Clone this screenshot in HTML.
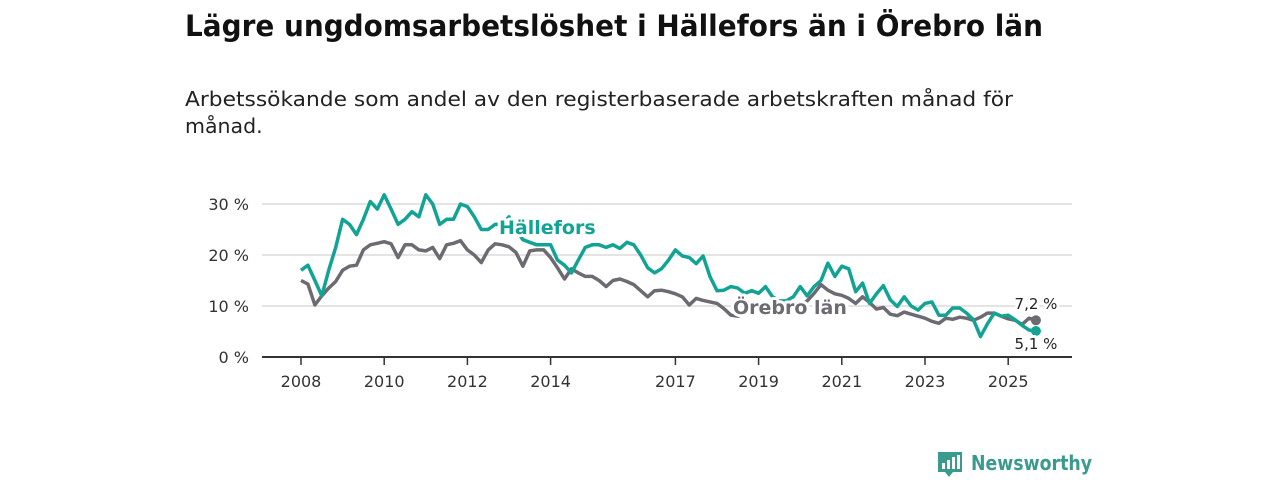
<!DOCTYPE html>
<html><head><meta charset="utf-8"><style>
html,body{margin:0;padding:0;background:#fff;}
svg{display:block;font-family:"DejaVu Sans","Liberation Sans",sans-serif;}
.lab{paint-order:stroke;stroke:#fff;stroke-width:6px;stroke-linejoin:round;}
</style></head><body>
<svg id="chart" width="1280" height="480" viewBox="0 0 1280 480" xmlns="http://www.w3.org/2000/svg">
<text x="185" y="36" font-size="29" font-weight="bold" fill="#111" textLength="858" lengthAdjust="spacingAndGlyphs">Lägre ungdomsarbetslöshet i Hällefors än i Örebro län</text>
<text font-size="20.5" fill="#222"><tspan x="185" y="106" textLength="828" lengthAdjust="spacingAndGlyphs">Arbetssökande som andel av den registerbaserade arbetskraften månad för</tspan><tspan x="185" y="133">månad.</tspan></text>
<g id="grid"></g>
<g id="yticks"></g>
<g id="xticks"></g>
<g id="series"></g>
<g id="labels"></g>
<g>
<path d="M938 452 h24 v20 h-9 l-4 5 l-4 -5 h-7 z" fill="#3a9a8e"/>
<rect x="942" y="463" width="3" height="6" fill="#fff"/><rect x="947" y="460" width="3" height="9" fill="#fff"/><rect x="952" y="457" width="3" height="12" fill="#fff"/><rect x="957" y="455" width="3" height="14" fill="#fff"/>
<text x="971" y="470" font-size="20" font-weight="bold" fill="#3a9a8e" textLength="121" lengthAdjust="spacingAndGlyphs">Newsworthy</text>
</g>
</svg>
<script>
const yTicks = [0, 10, 20, 30];
const yTickLabels = ["0 %", "10 %", "20 %", "30 %"];
const xTicks = [2008, 2010, 2012, 2014, 2017, 2019, 2021, 2023, 2025];
const startYear = 2008;
const monthStep = 2;
const hallefors = [17,18,15,12,17,21.5, 27,26,24,27,30.5,29, 31.8,29,26,27,28.5,27.5, 31.8,30,26,27,27,30, 29.5,27.5,25,25,26,26, 27.5,25,23,22.5,22,22, 22,19,18,16.5,19,21.5, 22,22,21.5,22,21.3,22.5, 22,20,17.5,16.5,17.3,19,
 21,19.8,19.5,18.3,19.8,15.7, 13,13.1,13.8,13.5,12.5,13, 12.5,13.8,11.8,11,11,11.8, 13.8,12,13.8,15,18.4,15.8, 17.8,17.3,12.8,14.5,10.5,12.4, 14,11.2,9.9,11.8,10,9.2, 10.5,10.8,8.2,8.2,9.6,9.6, 8.6,7.3,4,6.5,8.6,8, 8.2,7.3,6.2,5.3,5.1];
const orebro = [15,14.3,10.2,12,13.5,14.8, 17,17.8,18,21,22,22.3, 22.6,22.2,19.5,22,22,21, 20.8,21.5,19.3,22,22.3,22.8, 21,20,18.5,21,22.2,22, 21.6,20.5,17.8,20.8,21,21, 19.5,17.5,15.3,17.3,16.5,15.8, 15.8,15,13.8,15,15.3,14.8, 14.2,13,11.8,13,13.1,12.8,
 12.4,11.8,10.2,11.5,11.1,10.8, 10.5,9.5,8.2,8,8.5,9, 9,9.5,9,9.5,10,10, 10,11,12.5,14.2,13.1,12.4, 12.1,11.5,10.5,11.8,10.7,9.4, 9.7,8.4,8.1,8.8,8.4,8.0, 7.6,7.0,6.6,7.6,7.4,7.8, 7.6,7.2,7.8,8.6,8.6,8.0, 7.5,7.2,6.4,7.6,7.2];

const NS="http://www.w3.org/2000/svg";
const X0=262, X1=1072;
function xScale(yr){return 301+(yr-2008)*41.6;}
function yScale(v){return 357-v*5.1;}
function xIdx(i){return xScale(startYear+i*monthStep/12);}
function mk(tag,attrs,parent){const e=document.createElementNS(NS,tag);for(const k in attrs)e.setAttribute(k,attrs[k]);parent.appendChild(e);return e;}

const grid=document.getElementById('grid'), yt=document.getElementById('yticks'), xt=document.getElementById('xticks');
yTicks.forEach((v,i)=>{
  if(v>0){const g=mk('line',{x1:X0,x2:X1,y1:yScale(v),y2:yScale(v),stroke:'#dcdcdc','stroke-width':1.5},grid);
  
  }
  const t=mk('text',{x:249,y:yScale(v)+6,'text-anchor':'end','font-size':16,fill:'#333'},yt);
  
  
  t.textContent=yTickLabels[i];
});
const ax=mk('line',{x1:X0,x2:X1,y1:357,y2:357,stroke:'#333','stroke-width':2},xt);


xTicks.forEach(yr=>{
  const x=xScale(yr);
  const tk=mk('line',{x1:x,x2:x,y1:357,y2:365,stroke:'#333','stroke-width':1.5},xt);
  
  
  const t=mk('text',{x:x,y:387,'text-anchor':'middle','font-size':16,fill:'#333'},xt);
  
  
  t.textContent=yr;
});
const ser=document.getElementById('series');
function line(data,color,name){
  const d=data.map((v,i)=>(i?'L':'M')+xIdx(i).toFixed(1)+' '+yScale(v).toFixed(1)).join(' ');
  const p=mk('path',{d:d,fill:'none',stroke:color,'stroke-width':3.5,'stroke-linejoin':'round'},ser);
  
  
  const n=data.length-1;
  const c=mk('circle',{cx:xIdx(n),cy:yScale(data[n]),r:5,fill:color},ser);
  
  
}
line(orebro,'#6d6a71','orebro');
line(hallefors,'#12a394','hallefors');
const lab=document.getElementById('labels');
function txt(s,x,y,size,weight,color,name,anchor){
  const t=mk('text',{x:x,y:y,'font-size':size,'font-weight':weight,fill:color,class:'lab','text-anchor':anchor||'start'},lab);
  
  
  t.textContent=s;
}
txt('Hällefors',499,234,19,'bold','#12a394','hallefors-label');
txt('Örebro län',733,314,19,'bold','#6d6a71','orebro-label');
const n=orebro.length-1;
txt(orebro[n].toFixed(1).replace('.',',')+' %',1036,309,15,'normal','#222','orebro-value','middle');
txt(hallefors[n].toFixed(1).replace('.',',')+' %',1036,349,15,'normal','#222','hallefors-value','middle');
</script>
</body></html>
